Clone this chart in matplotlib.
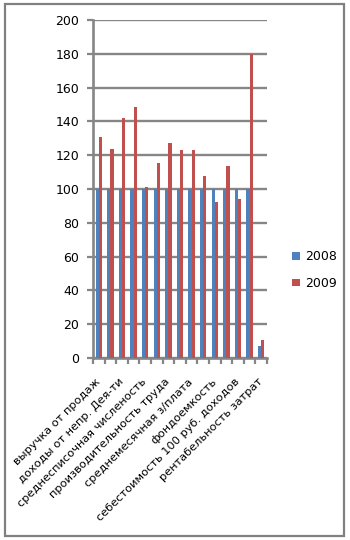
import matplotlib
matplotlib.use("Agg")
import matplotlib.pyplot as plt
from matplotlib.patches import Rectangle
import numpy as np

plt.rcParams['font.family'] = ['DejaVu Sans']

# 15 categories; only every other one carries a visible label
labels = ["выручка от продаж", "", "доходы от непр. Дея-ти", "",
          "среднесписочная численость", "", "производительность труда", "",
          "среднемесячная з/плата", "", "фондоемкость", "",
          "себестоимость 100 руб. доходов", "", "рентабельность затрат"]
v2008 = [100, 100, 100, 100, 100, 100, 100, 100, 100, 100, 100, 100, 100, 100, 7.2]
v2009 = [130.5, 123.8, 142.3, 148.7, 101.3, 115.5, 127.3, 123.2, 123.2, 107.8,
         92.6, 113.9, 94.2, 180, 10.8]
series_names = ["2008", "2009"]
yticks = [0, 20, 40, 60, 80, 100, 120, 140, 160, 180, 200]

W, H = 350, 540
fig = plt.figure(figsize=(W / 100, H / 100), dpi=100)
ax = fig.add_axes([93 / W, (H - 358) / H, 174 / W, 338 / H])

grid_col = "#868686"
blue = "#4F81BD"
red = "#C0504D"

x = np.arange(len(labels))
bw = 0.28
ax.bar(x - bw / 2, v2008, bw, color=blue, label=series_names[0], zorder=3)
ax.bar(x + bw / 2, v2009, bw, color=red, label=series_names[1], zorder=3)

ax.set_xlim(-0.5, len(labels) - 0.5)
ax.set_ylim(0, 200)
ax.set_yticks(yticks)
ax.yaxis.grid(True, color=grid_col, linewidth=1.7, zorder=0)
ax.set_axisbelow(True)

for s in ["top", "right"]:
    ax.spines[s].set_visible(False)
for s in ["left", "bottom"]:
    ax.spines[s].set_color(grid_col)
    ax.spines[s].set_linewidth(1.9)

ax.tick_params(axis="y", length=4, width=1.6, color=grid_col, labelsize=9, pad=6)

ax.set_xticks(x)
ax.set_xticklabels(labels, rotation=45, ha="right", va="center",
                   rotation_mode="anchor", fontsize=8.2)
ax.tick_params(axis="x", which="major", length=0, pad=16)
ax.set_xticks(np.arange(-0.5, len(labels), 1), minor=True)
ax.tick_params(axis="x", which="minor", length=4, width=1.6, color=grid_col)

fig.legend(loc="center left", bbox_to_anchor=(281 / W, 1 - 270 / H),
           frameon=False, fontsize=9, handlelength=0.6, handleheight=0.6,
           handletextpad=0.4, labelspacing=1.1)

fig.patches.append(Rectangle((5 / W, 4 / H), 339 / W, 532 / H, fill=False,
                             edgecolor="#808080", linewidth=1.6,
                             transform=fig.transFigure, figure=fig))

fig.savefig("out.png", dpi=100)
